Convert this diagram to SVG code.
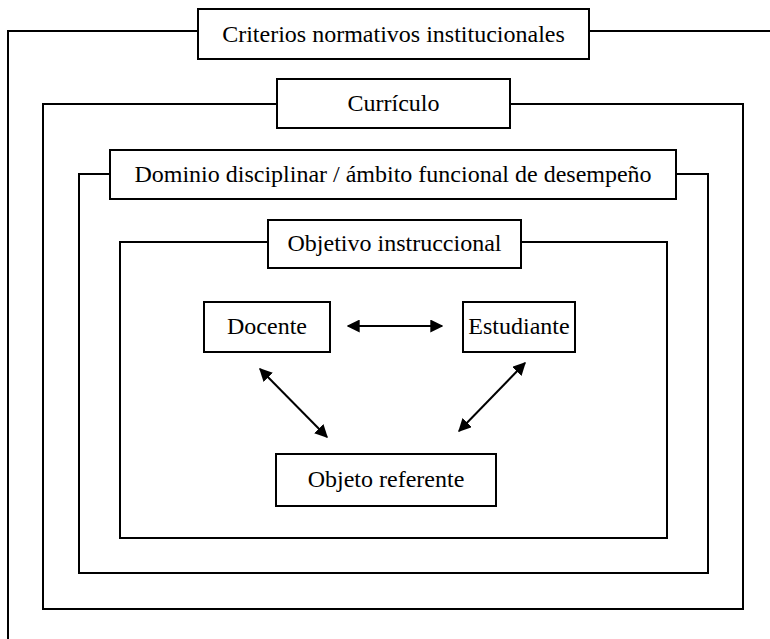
<svg xmlns="http://www.w3.org/2000/svg" width="770" height="639" viewBox="0 0 770 639">
<style>
.box{fill:#fff;stroke:#000;stroke-width:2}
.frame{fill:none;stroke:#000;stroke-width:2}
.lbl{font-family:"Liberation Serif","Times New Roman",serif;font-size:24px;fill:#000;text-anchor:middle}
.arr{stroke:#000;stroke-width:2;fill:none;marker-start:url(#ah);marker-end:url(#ah)}
</style>
<defs>
<marker id="ah" viewBox="0 0 10 10" refX="9" refY="5" markerWidth="13" markerHeight="13" markerUnits="userSpaceOnUse" orient="auto-start-reverse">
<path d="M0,0 L10,5 L0,10 Z" fill="#000"/>
</marker>
</defs>
<g id="frames">
<path class="frame" d="M198,31 H8 V639 M589,31 H770"/>
<path class="frame" d="M277,104 H43 V609 H743 V104 H510"/>
<path class="frame" d="M110,174 H79 V573 H708 V174 H676"/>
<path class="frame" d="M268,242 H120 V538 H667 V242 H521"/>
</g>
<g id="criterios"><rect class="box" x="198" y="9" width="391" height="50"/><text class="lbl" x="393.5" y="42">Criterios normativos institucionales</text></g>
<g id="curriculo"><rect class="box" x="277" y="79" width="233" height="49"/><text class="lbl" x="393.5" y="111">Currículo</text></g>
<g id="dominio"><rect class="box" x="110" y="150" width="566" height="49"/><text class="lbl" x="393" y="182">Dominio disciplinar / ámbito funcional de desempeño</text></g>
<g id="objetivo"><rect class="box" x="268" y="220" width="253" height="48"/><text class="lbl" x="394.5" y="251">Objetivo instruccional</text></g>
<g id="docente"><rect class="box" x="204" y="302" width="126" height="50"/><text class="lbl" x="267" y="334">Docente</text></g>
<g id="estudiante"><rect class="box" x="463" y="302" width="112" height="50"/><text class="lbl" x="519" y="334">Estudiante</text></g>
<g id="objeto"><rect class="box" x="276" y="454" width="220" height="52"/><text class="lbl" x="386" y="487">Objeto referente</text></g>
<g id="connectors">
<line class="arr" x1="348" y1="326" x2="442" y2="326"/>
<line class="arr" x1="260" y1="369" x2="327" y2="437"/>
<line class="arr" x1="525" y1="363" x2="459" y2="431"/>
</g>
</svg>
